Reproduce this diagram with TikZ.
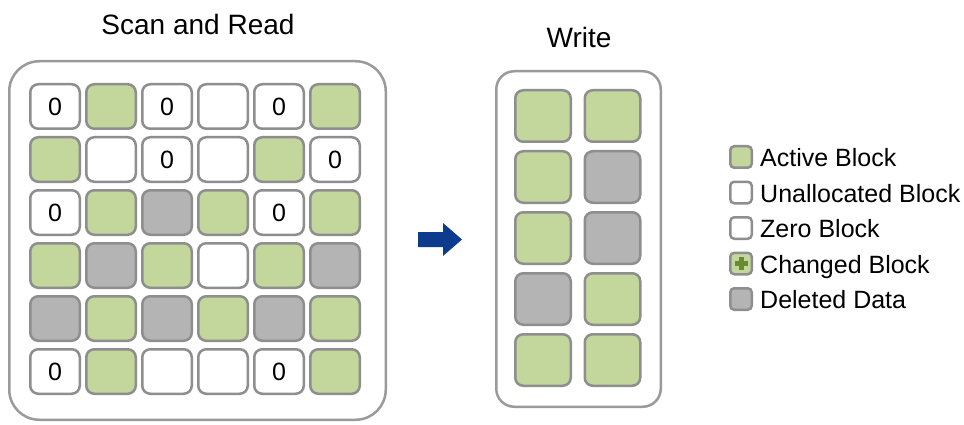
\documentclass[tikz,border=0pt]{standalone}
\usepackage{fontspec}
\setmainfont{Liberation Sans}
\usetikzlibrary{calc}
\definecolor{actgreen}{HTML}{C3D69B}
\definecolor{delgray}{HTML}{B4B4B4}
\definecolor{edgegray}{HTML}{8E8E8E}
\definecolor{boxgray}{HTML}{9A9A9A}
\definecolor{plusgreen}{HTML}{6A8A32}
\definecolor{arrowblue}{HTML}{0D3B8E}
\tikzset{
  blk/.style={draw=edgegray, line width=2.5pt, rounded corners=8pt, inner sep=0pt,
    minimum width=49.5pt, minimum height=44.5pt, font=\fontsize{25}{25}\selectfont},
  gb/.style={blk, fill=actgreen},
  wb/.style={blk, fill=white},
  db/.style={blk, fill=delgray},
  wblk/.style={draw=edgegray, line width=2.5pt, rounded corners=8pt, inner sep=0pt,
    minimum width=55.5pt, minimum height=51.5pt},
  wg/.style={wblk, fill=actgreen},
  wd/.style={wblk, fill=delgray},
  frame/.style={draw=boxgray, line width=2.5pt, fill=white},
  title/.style={font=\fontsize{28}{28}\selectfont, anchor=base},
  legsq/.style={draw=edgegray, line width=2.5pt, rounded corners=4pt, inner sep=0pt,
    minimum size=21.5pt},
  legtext/.style={font=\fontsize{25}{25}\selectfont, anchor=base west, inner sep=0pt}
}
\def\kZ{z}\def\kW{w}\def\kG{g}\def\kD{d}
\begin{document}
\begin{tikzpicture}[x=1pt, y=-1pt]
\useasboundingbox (0,0) rectangle (964,425);

% titles
\node[title] (tscan) at (198,35) {Scan and Read};
\node[title] (twrite) at (579,48) {Write};

% frames
\draw[frame, rounded corners=30pt] (9.25,61.25) rectangle (385.75,419.75);
\draw[frame, rounded corners=18pt] (496.25,71.25) rectangle (660.75,406.75);

% source grid: w = free, z = zero, g = active, d = deleted
\foreach \row [count=\j from 0] in {
  {z,g,z,w,z,g},
  {g,w,z,w,g,z},
  {z,g,d,g,z,g},
  {g,d,g,w,g,d},
  {d,g,d,g,d,g},
  {z,g,w,w,z,g}}{
  \foreach \kind [count=\i from 0] in \row {
    \pgfmathsetmacro{\cx}{55+56*\i}
    \pgfmathsetmacro{\cy}{106.5+53*\j}
    \ifx\kind\kZ \node[wb] (s-\j-\i) at (\cx,\cy) {0};\fi
    \ifx\kind\kW \node[wb] (s-\j-\i) at (\cx,\cy) {};\fi
    \ifx\kind\kG \node[gb] (s-\j-\i) at (\cx,\cy) {};\fi
    \ifx\kind\kD \node[db] (s-\j-\i) at (\cx,\cy) {};\fi
  }
}

% written blocks
\foreach \row [count=\j from 0] in {{g,g},{g,d},{g,d},{d,g},{g,g}}{
  \foreach \kind [count=\i from 0] in \row {
    \pgfmathsetmacro{\cx}{543+69.5*\i}
    \pgfmathsetmacro{\cy}{116+61*\j}
    \ifx\kind\kG \node[wg] (t-\j-\i) at (\cx,\cy) {};\fi
    \ifx\kind\kD \node[wd] (t-\j-\i) at (\cx,\cy) {};\fi
  }
}

% arrow between the two stages
\fill[arrowblue] (418,232) -- (443,232) -- (443,223) -- (462,239.5)
  -- (443,256) -- (443,247) -- (418,247) -- cycle;

% legend
\node[legsq, fill=actgreen] (l1) at (741,157) {};
\node[legsq, fill=white]    (l2) at (741,192.5) {};
\node[legsq, fill=white]    (l3) at (741,228) {};
\node[legsq, fill=actgreen] (l4) at (741,263.5) {};
\node[legsq, fill=delgray]  (l5) at (741,299) {};
\fill[plusgreen] ($(l4)+(-2.5,-6.5)$) rectangle ($(l4)+(2.5,6.5)$);
\fill[plusgreen] ($(l4)+(-6.5,-2.5)$) rectangle ($(l4)+(6.5,2.5)$);
\node[legtext] (lt1) at (760,166.5) {Active Block};
\node[legtext] (lt2) at (760,202) {Unallocated Block};
\node[legtext] (lt3) at (760,237.5) {Zero Block};
\node[legtext] (lt4) at (760,273) {Changed Block};
\node[legtext] (lt5) at (760,308.5) {Deleted Data};
\end{tikzpicture}
\end{document}
